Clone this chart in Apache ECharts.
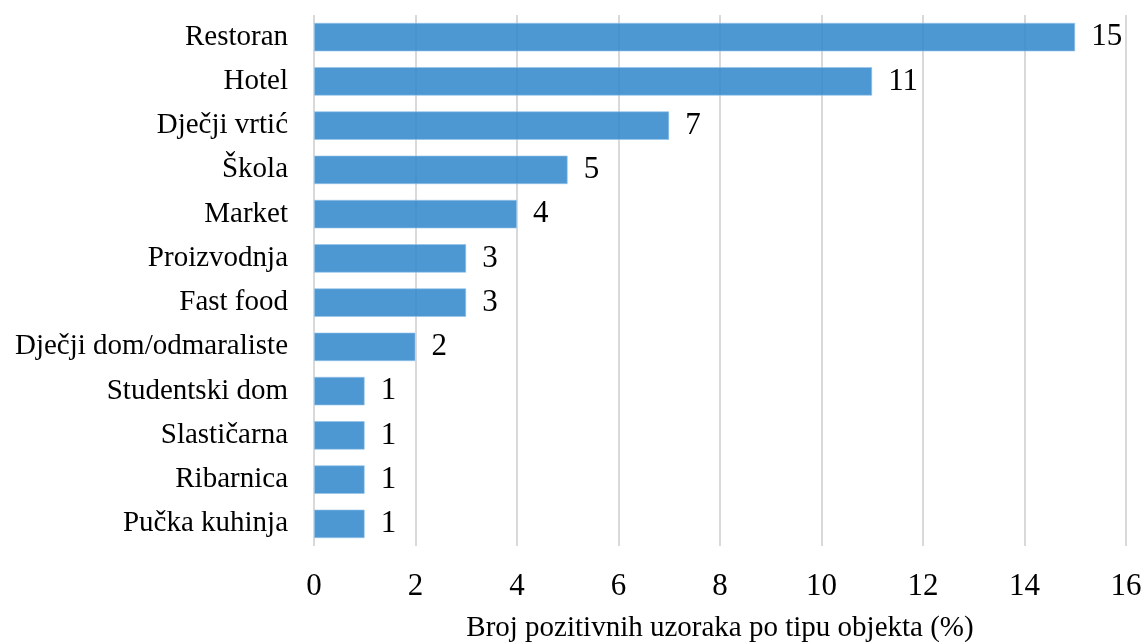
<!DOCTYPE html>
<html>
<head>
<meta charset="utf-8">
<script src="https://cdn.jsdelivr.net/npm/echarts@6/dist/echarts.min.js"></script>
<style>
  html, body { margin: 0; padding: 0; background: #fff; }
  #chart { width: 1145px; height: 642px; }
</style>
</head>
<body>
<div id="chart"></div>
<script>
// top to bottom as in the picture
const categories = ['Restoran', 'Hotel', 'Dječji vrtić', 'Škola', 'Market', 'Proizvodnja',
  'Fast food', 'Dječji dom/odmaraliste', 'Studentski dom', 'Slastičarna', 'Ribarnica', 'Pučka kuhinja']
const values = [15, 11, 7, 5, 4, 3, 3, 2, 1, 1, 1, 1]
const axisTitle = 'Broj pozitivnih uzoraka po tipu objekta (%)'

const font = '"Liberation Serif", "Times New Roman", serif'
const chart = echarts.init(document.getElementById('chart'))

chart.setOption({
  backgroundColor: '#fff',
  animation: false,
  grid: { left: 314, right: 19, top: 15, bottom: 96, outerBoundsMode: 'none' },
  xAxis: {
    type: 'value',
    min: 0,
    max: 16,
    interval: 2,
    name: axisTitle,
    nameLocation: 'middle',
    nameGap: 68,
    nameTextStyle: { fontFamily: font, fontSize: 29, color: '#000' },
    axisLine: { show: false },
    axisTick: { show: false },
    axisLabel: { fontFamily: font, fontSize: 31, color: '#000', margin: 25 },
    splitLine: { show: true, lineStyle: { color: '#d9d9d9', width: 2 } }
  },
  yAxis: {
    type: 'category',
    data: categories,
    inverse: true,
    axisLine: { show: false },
    axisTick: { show: false },
    axisLabel: { fontFamily: font, fontSize: 29, color: '#000', margin: 26, padding: [8, 0, 0, 0] }
  },
  series: [{
    type: 'bar',
    data: values,
    barCategoryGap: '35%',
    itemStyle: { color: 'rgba(46,134,203,0.85)', borderColor: 'rgba(150,195,235,0.6)', borderWidth: 1 },
    label: {
      show: true,
      position: 'right',
      distance: 16,
      fontFamily: font,
      fontSize: 31,
      color: '#000',
      padding: [7, 0, 0, 0]
    }
  }]
})
</script>
</body>
</html>
